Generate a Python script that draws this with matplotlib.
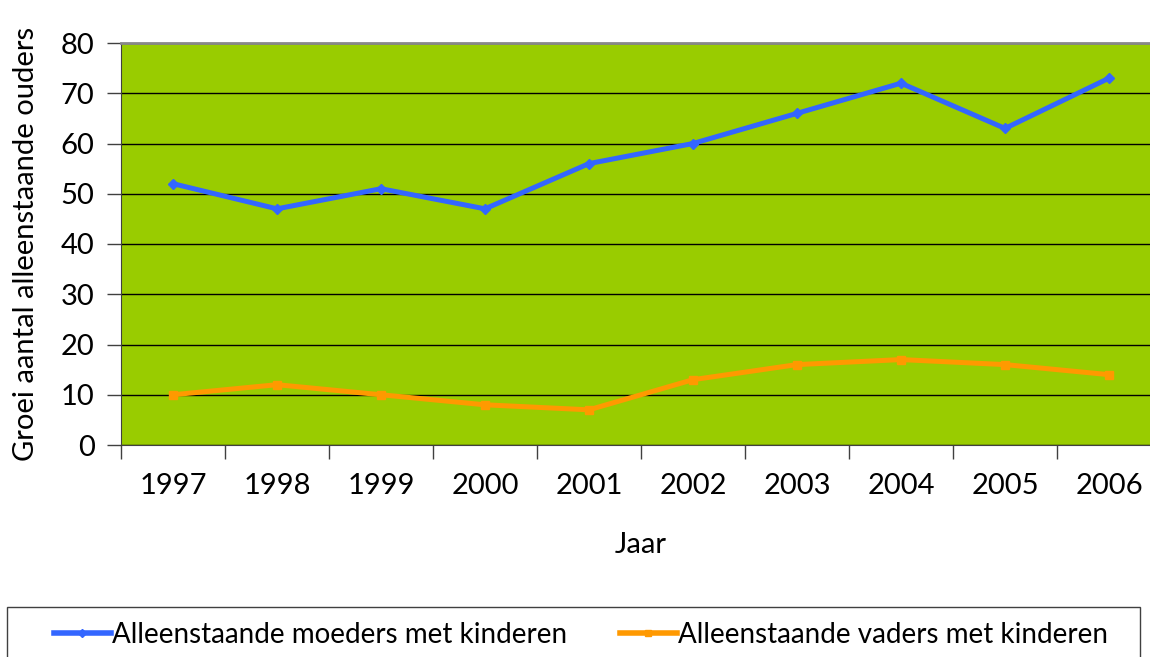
import numpy as np
import matplotlib.pyplot as plt
from matplotlib.lines import Line2D
from matplotlib.patches import Rectangle

years = ["1997", "1998", "1999", "2000", "2001", "2002", "2003", "2004", "2005", "2006"]
moeders = [52, 47, 51, 47, 56, 60, 66, 72, 63, 73]
vaders = [10, 12, 10, 8, 7, 13, 16, 17, 16, 14]
yticks = [0, 10, 20, 30, 40, 50, 60, 70, 80]

plt.rcParams['font.family'] = ['Lato', 'DejaVu Sans']

W, H = 1150, 657
fig = plt.figure(figsize=(W / 100, H / 100), dpi=100)
# plot area in pixels: left 121, right 1161, top 43, bottom 445
ax = fig.add_axes([121 / W, 1 - 445 / H, 1040 / W, (445 - 43) / H])
ax.set_facecolor("#99CC00")

x = np.arange(len(years))
ax.plot(x, moeders, color="#3366FF", lw=3.6, marker="D", ms=5, zorder=3)
ax.plot(x, vaders, color="#FF9900", lw=3.6, marker="s", ms=6, zorder=3)

ax.set_xlim(-0.5, len(years) - 0.5)
ax.set_ylim(0, 80)
ax.set_yticks(yticks)
ax.set_yticklabels([str(v) for v in yticks], fontsize=21)
ax.grid(axis="y", color="black", lw=1)
ax.set_axisbelow(True)

# category ticks on the boundaries, labels in the centers
ax.set_xticks(np.arange(-0.5, len(years), 1.0))
ax.set_xticklabels([])
ax.set_xticks(x, minor=True)
ax.set_xticklabels(years, minor=True, fontsize=21)
ax.tick_params(axis="x", which="minor", length=0, pad=20)
ax.tick_params(axis="x", which="major", length=10, width=1, color="#404040")
ax.tick_params(axis="y", length=10, width=1, color="#404040", pad=9)

ax.spines["top"].set_color("#888888")
ax.spines["top"].set_linewidth(2)
ax.spines["left"].set_color("#404040")
ax.spines["bottom"].set_color("#404040")
ax.spines["right"].set_visible(False)

ax.set_xlabel("Jaar", fontsize=21, labelpad=24)
ax.set_ylabel("Groei aantal alleenstaande ouders", fontsize=21, labelpad=16)

# legend frame (runs off the bottom edge like the original)
fig.patches.append(Rectangle((7 / W, -0.05), 1133 / W, 0.05 + 50 / H, transform=fig.transFigure,
                             facecolor="white", edgecolor="#404040", lw=1))
handles = [
    Line2D([], [], color="#3366FF", lw=4, marker="D", ms=4),
    Line2D([], [], color="#FF9900", lw=4, marker="s", ms=5),
]
leg = fig.legend(handles, ["Alleenstaande moeders met kinderen", "Alleenstaande vaders met kinderen"],
                 loc="center", bbox_to_anchor=(581 / W, 1 - 635 / H), ncol=2, fontsize=20,
                 frameon=False, handlelength=2.05, handletextpad=0.05, columnspacing=1.9)

fig.savefig("out.png", dpi=100)
